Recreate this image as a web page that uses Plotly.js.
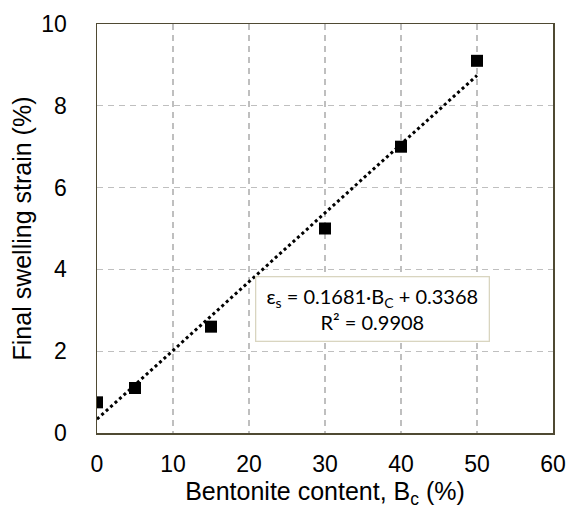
<!DOCTYPE html>
<html>
<head>
<meta charset="utf-8">
<script src="https://cdn.plot.ly/plotly-3.0.1.min.js"></script>
<style>html,body{margin:0;padding:0;background:#fff;}#chart{width:567px;height:509px;}</style>
</head>
<body>
<div id="chart"></div>
<script>
// Data
var bentonite = [0, 5, 15, 30, 40, 50];
var swelling = [0.75, 1.1, 2.6, 5.0, 7.0, 9.1];
var slope = 0.1681;
var intercept = 0.3368;
var r2 = 0.9908;
var fitX = [0, 50];
var fitY = fitX.map(function (x) { return slope * x + intercept; });
var xTicks = [0, 10, 20, 30, 40, 50, 60];
var yTicks = [0, 2, 4, 6, 8, 10];

var titleFont = {family: "'Liberation Sans', Arial, sans-serif", size: 25, color: '#000'};
var tickFont = {family: "'Liberation Sans', Arial, sans-serif", size: 23, color: '#000'};

var traces = [
  {
    x: fitX, y: fitY, type: 'scatter', mode: 'lines',
    line: {color: '#000', width: 3, dash: '3px,3px'},
    hoverinfo: 'skip', showlegend: false
  },
  {
    x: bentonite, y: swelling, type: 'scatter', mode: 'markers',
    marker: {symbol: 'square', size: 12, color: '#000'},
    showlegend: false
  }
];

var layout = {
  width: 567, height: 509,
  margin: {l: 97, r: 14, t: 24, b: 76},
  paper_bgcolor: '#fff', plot_bgcolor: '#fff',
  font: tickFont,
  xaxis: {
    range: [0, 60], tickvals: xTicks, ticktext: xTicks.map(String),
    showgrid: true, gridcolor: '#bfbfbf', gridwidth: 1.3, griddash: '6px,5px',
    zeroline: false, showline: true, mirror: true, linecolor: '#4f4a33', linewidth: 1.5,
    ticks: '', ticklabelstandoff: 10, tickfont: tickFont,
    title: {text: 'Bentonite content, B<sub>c</sub> (%)', font: titleFont, standoff: 10}
  },
  yaxis: {
    range: [0, 10], tickvals: yTicks, ticktext: yTicks.map(String),
    showgrid: true, gridcolor: '#bfbfbf', gridwidth: 1.3, griddash: '6px,5px',
    zeroline: false, showline: true, mirror: true, linecolor: '#4f4a33', linewidth: 1.5,
    ticks: '', ticklabelstandoff: 24, tickfont: tickFont,
    title: {text: 'Final swelling strain (%)', font: titleFont, standoff: 2}
  },
  annotations: [{
    x: 36.25, y: 3.04, xref: 'x', yref: 'y', xanchor: 'center', yanchor: 'middle',
    showarrow: false, align: 'center',
    text: 'ε<sub>s</sub> = ' + slope.toFixed(4) + '·B<sub>C</sub> + ' + intercept.toFixed(4) + '<br>R² = ' + r2.toFixed(4),
    font: {family: 'Lato, Open Sans, sans-serif', size: 20, color: '#000'},
    bgcolor: '#fff', bordercolor: '#d9d5c0', borderwidth: 1.3, borderpad: 3,
    width: 226, height: 57
  }]
};

Plotly.newPlot('chart', traces, layout, {displayModeBar: false, staticPlot: true});
</script>
</body>
</html>
